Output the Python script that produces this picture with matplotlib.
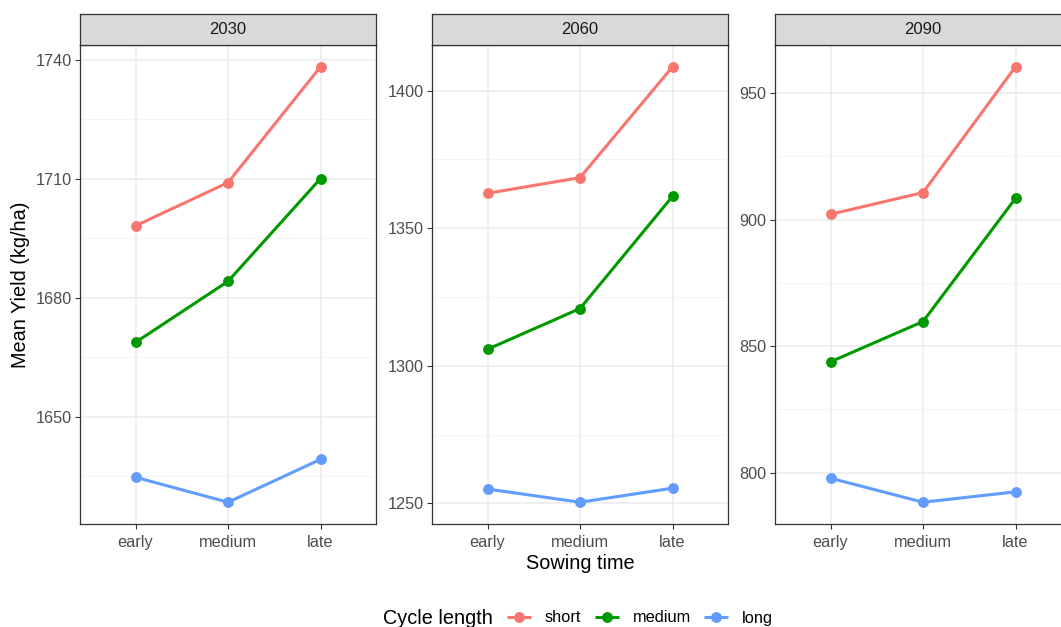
import numpy as np
import matplotlib.pyplot as plt
from matplotlib.ticker import MultipleLocator

plt.rcParams['font.family'] = ['Liberation Sans', 'DejaVu Sans']

sowing = ['early', 'medium', 'late']
cycles = ['short', 'medium', 'long']
colors = ['#F8766D', '#009A00', '#619CFF']
years = ['2030', '2060', '2090']

# mean yield (kg/ha) per cycle length, for each sowing time
y2030_short = [1698.1, 1709.0, 1738.2]
y2030_medium = [1668.7, 1684.1, 1710.0]
y2030_long = [1634.7, 1628.4, 1639.2]

y2060_short = [1362.7, 1368.4, 1408.7]
y2060_medium = [1306.0, 1320.8, 1361.6]
y2060_long = [1255.2, 1250.4, 1255.5]

y2090_short = [902.1, 910.7, 960.4]
y2090_medium = [843.8, 859.7, 908.4]
y2090_long = [797.8, 788.3, 792.4]

panels = [
    (years[0], [y2030_short, y2030_medium, y2030_long], 30),
    (years[1], [y2060_short, y2060_medium, y2060_long], 50),
    (years[2], [y2090_short, y2090_medium, y2090_long], 50),
]

W, H = 1061, 627
fig = plt.figure(figsize=(W / 100, H / 100), dpi=100)

lefts = [80, 432, 775]
pw = 296
top, strip_top, bottom = 45, 14, 524

grey20 = '#333333'
grey30 = '#4D4D4D'

handles = []
for (year, series, step), lx in zip(panels, lefts):
    ax = fig.add_axes([lx / W, 1 - bottom / H, pw / W, (bottom - top) / H])
    x = np.arange(len(sowing))
    for vals, name, c in zip(series, cycles, colors):
        ln, = ax.plot(x, vals, color=c, lw=2.2, marker='o', ms=6.8,
                      solid_capstyle='butt', label=name, zorder=3)
        if year == years[0]:
            handles.append(ln)
    ax.set_xlim(-0.6, 2.6)
    ax.margins(y=0.05)
    ax.set_xticks(x)
    ax.set_xticklabels(sowing)
    ax.yaxis.set_major_locator(MultipleLocator(step))
    ax.yaxis.set_minor_locator(MultipleLocator(step / 2))
    ax.grid(True, which='major', color='#EBEBEB', lw=1.1, zorder=0)
    ax.grid(True, which='minor', axis='y', color='#F2F2F2', lw=0.6, zorder=0)
    ax.set_axisbelow(True)
    ax.tick_params(which='major', length=3.5, width=0.8, color=grey20,
                   labelcolor=grey30, labelsize=11.7)
    ax.tick_params(axis='x', pad=4.5)
    ax.tick_params(axis='y', pad=2.5)
    ax.tick_params(which='minor', length=0)
    for s in ax.spines.values():
        s.set_color(grey20)
        s.set_linewidth(0.9)

    # facet strip
    sx = fig.add_axes([lx / W, 1 - top / H, pw / W, (top - strip_top) / H])
    sx.set_facecolor('#D9D9D9')
    sx.set_xticks([])
    sx.set_yticks([])
    for s in sx.spines.values():
        s.set_color(grey20)
        s.set_linewidth(0.9)
    sx.text(0.5, 0.5, year, ha='center', va='center', fontsize=12,
            color='#1A1A1A', transform=sx.transAxes)

    if year == years[0]:
        ax.set_ylabel('Mean Yield (kg/ha)', fontsize=14.3, labelpad=4)
    if year == years[1]:
        ax.set_xlabel('Sowing time', fontsize=14.3, labelpad=3)

fig.text(383 / W, 1 - 618 / H, 'Cycle length', fontsize=14.3,
         ha='left', va='center')
fig.legend(handles=handles, labels=cycles, loc='center left',
           bbox_to_anchor=(507 / W, 1 - 618 / H), ncol=3, frameon=False,
           fontsize=11.8, handlelength=1.46, handletextpad=0.85,
           columnspacing=0.82, borderaxespad=0, borderpad=0)

fig.savefig('out.png', dpi=100)
